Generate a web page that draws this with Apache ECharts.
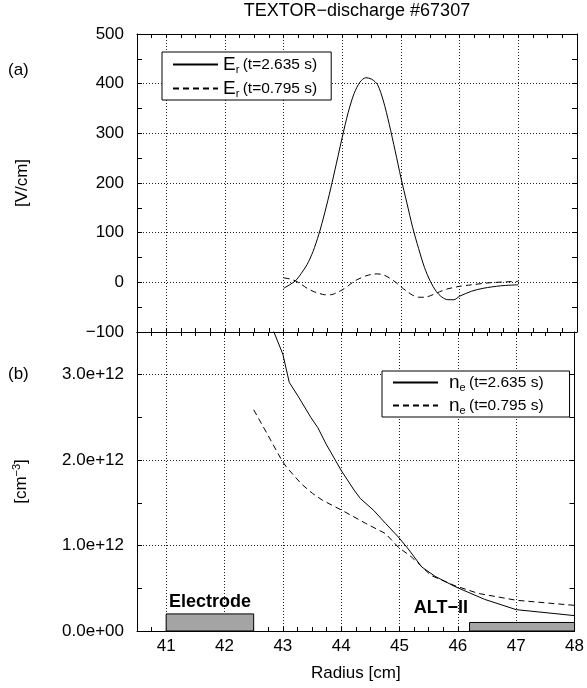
<!DOCTYPE html>
<html><head><meta charset="utf-8">
<script src="https://cdn.jsdelivr.net/npm/echarts@6/dist/echarts.min.js"></script>
<style>html,body{margin:0;padding:0;background:#fff}#c{width:587px;height:688px}</style>
</head><body><div id="c"></div>
<script>
// ---------------- data ----------------
const titleText = 'TEXTOR\u2212discharge #67307';
const panelLabels = ['(a)', '(b)'];
const xTickLabels = [41, 42, 43, 44, 45, 46, 47, 48];
const erNames = ['Er (t=2.635 s)', 'Er (t=0.795 s)'];
const neNames = ['ne (t=2.635 s)', 'ne (t=0.795 s)'];

// E_r at t=2.635 s [V/cm]
const erRadiusLate = [43.0,43.1,43.2,43.3,43.4,43.5,43.6,43.7,43.8,43.9,44.0,44.1,44.2,44.3,44.4,44.5,44.6,44.7,44.8,44.9,45.0,45.1,45.2,45.3,45.4,45.5,45.6,45.7,45.8,45.9,46.0,46.2,46.4,46.7,47.0];
const erValuesLate = [-12,-5,3,18,36,62,97,140,188,240,293,342,380,403,412,409,398,365,318,265,210,160,110,68,30,2,-18,-30,-35,-35,-28,-18,-12,-7,-5];
// E_r at t=0.795 s [V/cm]
const erRadiusEarly = [43.0,43.1,43.2,43.3,43.4,43.5,43.6,43.7,43.8,43.9,44.0,44.1,44.2,44.3,44.4,44.5,44.6,44.7,44.8,44.9,45.0,45.1,45.2,45.3,45.4,45.5,45.6,45.7,45.8,46.0,46.2,46.5,46.8,47.0];
const erValuesEarly = [9,7,3,-4,-12,-18,-22,-25,-25,-21,-15,-7,2,8,13,16,17,15,9,1,-9,-18,-26,-30,-30,-27,-22,-17,-13,-8,-5,-1,1,2];

// n_e at t=2.635 s [cm^-3]
const neRadiusLate = [42.8,43.0,43.11,43.26,43.48,43.6,43.74,44.0,44.22,44.33,44.56,44.76,44.98,45.15,45.38,45.61,45.95,46.46,47.0,48.0];
const neValuesLate = [3.58e12,3.24e12,2.91e12,2.75e12,2.50e12,2.38e12,2.19e12,1.88e12,1.65e12,1.55e12,1.41e12,1.26e12,1.10e12,0.96e12,0.75e12,0.64e12,0.52e12,0.37e12,0.25e12,0.18e12];
// n_e at t=0.795 s [cm^-3]
const neRadiusEarly = [42.5,42.73,42.98,43.06,43.32,43.51,43.68,44.02,44.42,44.76,44.98,45.2,45.54,45.95,46.35,47.0,48.0];
const neValuesEarly = [2.59e12,2.31e12,2.0e12,1.92e12,1.72e12,1.61e12,1.53e12,1.41e12,1.26e12,1.14e12,0.98e12,0.87e12,0.65e12,0.53e12,0.44e12,0.36e12,0.30e12];

// hardware boxes
const electrodeName = 'Electrode';
const electrodeSpan = [41.0, 42.5];
const electrodeTop = 0.2e12;
const limiterName = 'ALT\u2212II';
const limiterSpan = [46.2, 48.0];
const limiterTop = 0.1e12;

// ---------------- chart ----------------
const FONT = 'Liberation Sans';
const FS = 17;
const chart = echarts.init(document.getElementById('c'), null, {renderer: 'canvas'});
const pair = (xs, ys) => xs.map((x, i) => [x, ys[i]]);
const dotted = {show: true, lineStyle: {color: '#222', type: [1, 2], width: 1}};
const black = {color: '#000', width: 1};
const xMin = 40.5, xMax = 48;

function tickX(grid, pos, showLine) {
  return {type: 'value', gridIndex: grid, position: pos, min: xMin, max: xMax, interval: 0.25,
    axisLine: {show: showLine, onZero: false, lineStyle: black},
    axisTick: {show: true, inside: true, length: 4, lineStyle: black},
    axisLabel: {show: false}, splitLine: {show: false}};
}
function mainX(grid, labels) {
  return {type: 'value', gridIndex: grid, position: 'bottom', min: xMin, max: xMax, splitNumber: 8,
    axisLine: {show: true, onZero: false, lineStyle: black}, axisTick: {show: false},
    axisLabel: {show: labels, margin: 7, fontSize: FS, fontFamily: FONT, color: '#000',
      formatter: v => (xTickLabels.indexOf(v) >= 0 ? String(v) : '')},
    splitLine: dotted,
    name: labels ? 'Radius [cm]' : '', nameLocation: 'middle', nameGap: 34,
    nameTextStyle: {fontSize: FS, fontFamily: FONT, color: '#000'}};
}
function expFmt(v) {
  if (v % 1e12 !== 0) return '';
  if (v === 0) return '0.0e+00';
  const e = Math.floor(Math.log10(v));
  return (v / Math.pow(10, e)).toFixed(1) + 'e+' + e;
}
function legendFor(names, opts, lead) {
  return Object.assign({
    orient: 'vertical', itemWidth: 45, itemHeight: 14,
    borderColor: '#000', borderWidth: 1, borderRadius: 0, backgroundColor: '#fff',
    selectedMode: false,
    itemStyle: {color: 'rgba(0,0,0,0)', borderWidth: 0, opacity: 0},
    formatter: name => {
      const m = name.match(/^(\w)(\w) (.*)$/);
      return '{b|' + m[1] + '}{s|' + m[2] + '} {p|' + m[3] + '}';
    },
    textStyle: {color: '#000', fontFamily: FONT,
      rich: {
        b: {fontSize: 19, fontFamily: FONT, color: '#000', lineHeight: 21, verticalAlign: 'middle', padding: [0, 0, 0, lead]},
        s: {fontSize: 11, fontFamily: FONT, color: '#000', lineHeight: 21, verticalAlign: 'bottom'},
        p: {fontSize: 15.5, fontFamily: FONT, color: '#000', lineHeight: 21, verticalAlign: 'middle'}
      }},
    data: names
  }, opts);
}

const option = {
  animation: false,
  backgroundColor: '#fff',
  graphic: [
    {type: 'text', x: 357, y: 11, style: {text: titleText, textAlign: 'center', textVerticalAlign: 'middle', font: '18px "' + FONT + '"', fill: '#000'}},
    {type: 'text', x: 8, y: 70, style: {text: panelLabels[0], textAlign: 'left', textVerticalAlign: 'middle', font: FS + 'px "' + FONT + '"', fill: '#000'}},
    {type: 'text', x: 8, y: 374, style: {text: panelLabels[1], textAlign: 'left', textVerticalAlign: 'middle', font: FS + 'px "' + FONT + '"', fill: '#000'}}
  ],
  grid: [
    {left: 137, top: 34, width: 440, height: 298},
    {left: 137, top: 332, width: 440, height: 299}
  ],
  legend: [
    legendFor(erNames, {left: 162, top: 52, itemGap: 4, padding: [3, 14, 1, 10]}, 0),
    legendFor(neNames, {left: 382, top: 371, itemGap: 3, padding: [2, 26, 1, 10]}, 6)
  ],
  xAxis: [
    mainX(0, false), tickX(0, 'bottom', false), tickX(0, 'top', true),
    mainX(1, true), tickX(1, 'bottom', false), tickX(1, 'top', true)
  ],
  yAxis: [
    {type: 'value', gridIndex: 0, position: 'left', min: -100, max: 500, interval: 100,
      axisLine: {show: true, onZero: false, lineStyle: black},
      axisTick: {show: true, inside: true, length: 5, lineStyle: black},
      minorTick: {show: true, splitNumber: 2, length: 5, lineStyle: black},
      axisLabel: {margin: 13, fontSize: FS, fontFamily: FONT, color: '#000', formatter: v => String(v).replace('-', '\u2212')},
      splitLine: dotted,
      name: '[V/cm]', nameLocation: 'middle', nameRotate: 90, nameGap: 106,
      nameTextStyle: {fontSize: FS, fontFamily: FONT, color: '#000'}},
    {type: 'value', gridIndex: 0, position: 'right', min: -100, max: 500, interval: 100,
      axisLine: {show: true, onZero: false, lineStyle: black},
      axisTick: {show: true, inside: true, length: 5, lineStyle: black},
      minorTick: {show: true, splitNumber: 2, length: 5, lineStyle: black},
      axisLabel: {show: false}, splitLine: {show: false}},
    {type: 'value', gridIndex: 1, position: 'left', min: 0, max: 3.5e12, interval: 1e12,
      axisLine: {show: true, onZero: false, lineStyle: black}, axisTick: {show: false},
      axisLabel: {margin: 13, fontSize: FS, fontFamily: FONT, color: '#000', formatter: expFmt},
      splitLine: dotted,
      name: '[cm{sup|\u22123}]', nameLocation: 'middle', nameRotate: 90, nameGap: 106,
      nameTextStyle: {fontSize: FS, fontFamily: FONT, color: '#000',
        rich: {sup: {fontSize: 11, fontFamily: FONT, color: '#000', verticalAlign: 'top', lineHeight: 20}}}},
    {type: 'value', gridIndex: 1, position: 'left', min: 0, max: 3.5e12, interval: 0.5e12,
      axisLine: {show: false, onZero: false}, axisTick: {show: true, inside: true, length: 5, lineStyle: black},
      axisLabel: {show: false}, splitLine: {show: false}},
    {type: 'value', gridIndex: 1, position: 'right', min: 0, max: 3.5e12, interval: 0.5e12,
      axisLine: {show: true, onZero: false, lineStyle: black}, axisTick: {show: true, inside: true, length: 5, lineStyle: black},
      axisLabel: {show: false}, splitLine: {show: false}}
  ],
  series: [
    {name: erNames[0], type: 'line', xAxisIndex: 0, yAxisIndex: 0, data: pair(erRadiusLate, erValuesLate),
      symbol: 'none', smooth: 0.3, silent: true, lineStyle: {color: '#000', width: 1}, itemStyle: {color: '#000'}},
    {name: erNames[1], type: 'line', xAxisIndex: 0, yAxisIndex: 0, data: pair(erRadiusEarly, erValuesEarly),
      symbol: 'none', smooth: 0.3, silent: true, lineStyle: {color: '#000', width: 1, type: [6, 4]}, itemStyle: {color: '#000'}},
    {name: neNames[0], type: 'line', xAxisIndex: 3, yAxisIndex: 2, data: pair(neRadiusLate, neValuesLate),
      symbol: 'none', silent: true, lineStyle: {color: '#000', width: 1}, itemStyle: {color: '#000'},
      markArea: {silent: true,
        itemStyle: {color: '#a4a4a4', borderColor: '#000', borderWidth: 1, opacity: 1},
        label: {show: true, color: '#000', fontFamily: FONT, fontSize: 18, fontWeight: 'bold'},
        data: [
          [{name: electrodeName, coord: [electrodeSpan[0], 0], label: {position: 'top', distance: 2}},
           {coord: [electrodeSpan[1], electrodeTop]}],
          [{name: limiterName, coord: [limiterSpan[0], 0], label: {position: [-1, -5], align: 'right', verticalAlign: 'bottom'}},
           {coord: [limiterSpan[1], limiterTop]}]
        ]}},
    {name: neNames[1], type: 'line', xAxisIndex: 3, yAxisIndex: 2, data: pair(neRadiusEarly, neValuesEarly),
      symbol: 'none', silent: true, lineStyle: {color: '#000', width: 1, type: [6, 4]}, itemStyle: {color: '#000'}}
  ]
};
chart.setOption(option);
</script>
</body></html>
